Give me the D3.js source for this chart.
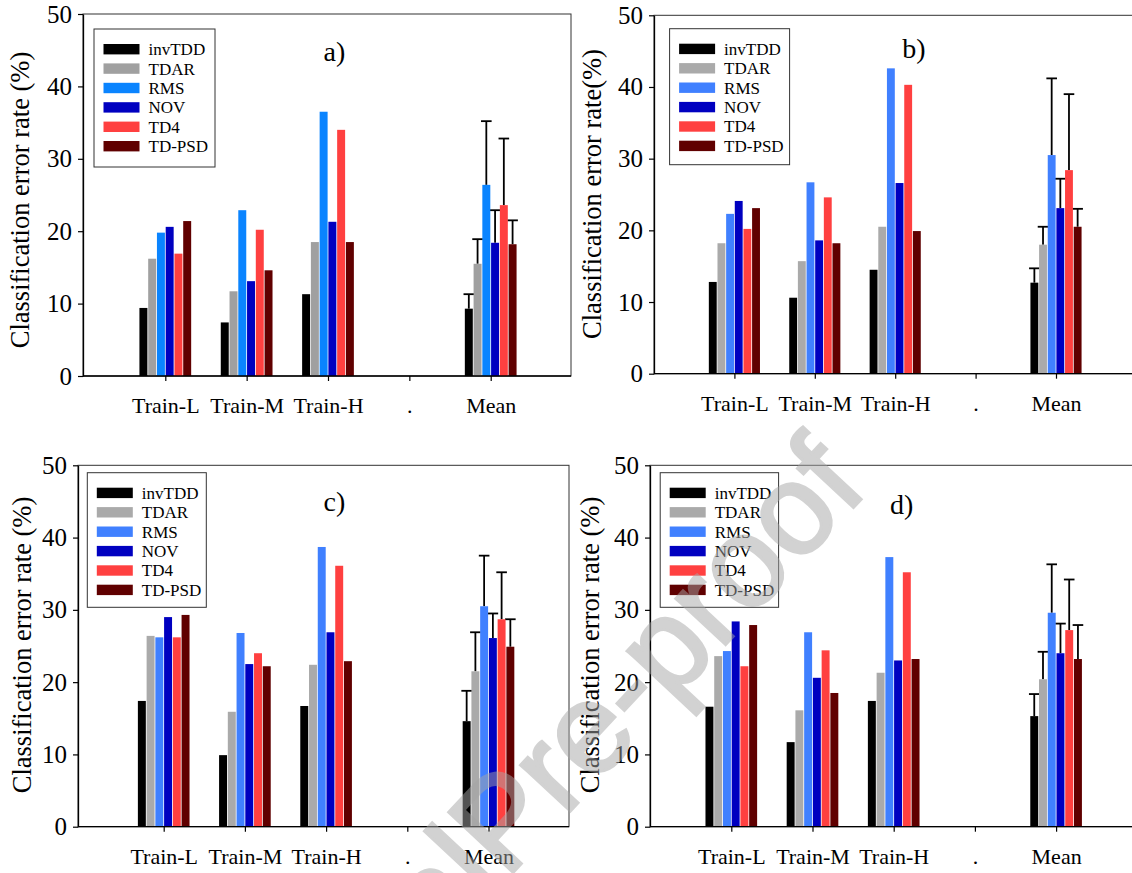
<!DOCTYPE html>
<html>
<head>
<meta charset="utf-8">
<script src="https://cdn.jsdelivr.net/npm/d3@7"></script>
<style>
  body { margin: 0; background: #fff; }
  svg { display: block; }
  svg text { font-family: "Liberation Serif", "Times New Roman", serif; }
</style>
</head>
<body>
<svg width="1132" height="873"></svg>
<script>
// categories on the x axis, "." is an empty spacer slot
var categories = ["Train-L", "Train-M", "Train-H", ".", "Mean"]
var barCategories = ["Train-L", "Train-M", "Train-H", "Mean"]
var methods = ["invTDD", "TDAR", "RMS", "NOV", "TD4", "TD-PSD"]
var yTicks = [0, 10, 20, 30, 40, 50]

// error rates (%), one row per bar category, one column per method
var rateA = [
  [9.4, 16.2, 19.8, 20.6, 16.9, 21.4],
  [7.4, 11.7, 22.9, 13.1, 20.2, 14.6],
  [11.3, 18.5, 36.5, 21.3, 34.0, 18.5],
  [9.3, 15.5, 26.4, 18.4, 23.6, 18.2]
]
var errA = [2.0, 3.4, 8.8, 4.5, 9.2, 3.3]

var rateB = [
  [12.8, 18.2, 22.3, 24.1, 20.2, 23.1],
  [10.6, 15.7, 26.7, 18.6, 24.6, 18.2],
  [14.5, 20.5, 42.6, 26.6, 40.3, 19.9],
  [12.7, 18.0, 30.5, 23.1, 28.4, 20.5]
]
var errB = [2.0, 2.5, 10.7, 4.1, 10.6, 2.5]

var rateC = [
  [17.4, 26.4, 26.2, 29.0, 26.2, 29.3],
  [9.9, 15.9, 26.8, 22.5, 24.0, 22.2],
  [16.7, 22.4, 38.7, 26.9, 36.1, 22.9],
  [14.6, 21.5, 30.5, 26.1, 28.7, 24.9]
]
var errC = [4.2, 5.4, 7.0, 3.4, 6.5, 3.8]

var rateD = [
  [16.6, 23.6, 24.3, 28.4, 22.2, 27.9],
  [11.7, 16.1, 26.9, 20.6, 24.4, 18.5],
  [17.4, 21.3, 37.3, 23.0, 35.2, 23.2],
  [15.3, 20.4, 29.6, 24.0, 27.2, 23.2]
]
var errD = [3.05, 3.8, 6.7, 4.1, 7.0, 4.7]

var colorsA = ["#000000", "#a0a0a0", "#0a84ff", "#0000c0", "#ff4040", "#600000"]
var colorsBCD = ["#000000", "#aaaaaa", "#4080ff", "#0000c0", "#ff4040", "#600000"]

var serif = "'Liberation Serif', 'Times New Roman', serif"

var panels = [
  {label: "a)", rates: rateA, errs: errA, colors: colorsA, title: "Classification error rate (%)",
   left: 83, right: 571, top: 14, bottom: 376, tick1: 165.3, step: 81.35,
   lab: [334.5, 61], ttl: [29, 200], leg: [94, 29, 121, 138]},
  {label: "b)", rates: rateB, errs: errB, colors: colorsBCD, title: "Classification error rate(%)",
   left: 654, right: 1140, top: 15.3, bottom: 373.7, tick1: 734.4, step: 80.4,
   lab: [914, 57.5], ttl: [601, 194], leg: [669.6, 28.7, 120, 136]},
  {label: "c)", rates: rateC, errs: errC, colors: colorsBCD, title: "Classification error rate (%)",
   left: 78, right: 569, top: 465.3, bottom: 826.7, tick1: 163.7, step: 81.2,
   lab: [334.5, 511], ttl: [31, 645], leg: [87.3, 472.7, 119, 134.6]},
  {label: "d)", rates: rateD, errs: errD, colors: colorsBCD, title: "Classification error rate (%)",
   left: 650, right: 1140, top: 465.3, bottom: 826.7, tick1: 731.3, step: 81.2,
   lab: [901.7, 514], ttl: [599, 645], leg: [660.2, 472.7, 118.4, 134.6]}
]

var svg = d3.select("svg")

panels.forEach(function(p){
  var g = svg.append("g")

  var x = d3.scalePoint()
    .domain(categories)
    .range([p.tick1, p.tick1 + 4 * p.step])

  var pitch = p.step * 0.106
  var inner = d3.scaleBand()
    .domain(methods)
    .range([-3 * pitch, 3 * pitch])
    .paddingInner(0.09)

  var y = d3.scaleLinear()
    .domain([0, 50])
    .range([p.bottom, p.top])

  // frame
  g.append("rect")
    .attr("x", p.left).attr("y", p.top)
    .attr("width", p.right - p.left).attr("height", p.bottom - p.top)
    .attr("fill", "none").attr("stroke", "#333").attr("stroke-width", 1)

  // flatten rows into bar records
  var bars = []
  p.rates.forEach(function(row, r){
    row.forEach(function(v, m){
      bars.push({cat: barCategories[r], method: methods[m], value: v, color: p.colors[m],
                 err: barCategories[r] == "Mean" ? p.errs[m] : null})
    })
  })

  function cx(d){ return x(d.cat) + inner(d.method) + inner.bandwidth() / 2 }

  // error bars first, upward only
  var eb = bars.filter(function(d){ return d.err != null })
  g.selectAll(".errLine")
    .data(eb)
    .join("line")
    .attr("x1", cx).attr("x2", cx)
    .attr("y1", function(d){ return y(d.value) })
    .attr("y2", function(d){ return y(d.value + d.err) })
    .attr("stroke", "#000").attr("stroke-width", 1.8)
  g.selectAll(".errCap")
    .data(eb)
    .join("line")
    .attr("x1", function(d){ return cx(d) - 5.3 })
    .attr("x2", function(d){ return cx(d) + 5.3 })
    .attr("y1", function(d){ return y(d.value + d.err) })
    .attr("y2", function(d){ return y(d.value + d.err) })
    .attr("stroke", "#000").attr("stroke-width", 1.8)

  g.selectAll(".bar")
    .data(bars)
    .join("rect")
    .attr("x", function(d){ return x(d.cat) + inner(d.method) })
    .attr("width", inner.bandwidth())
    .attr("y", function(d){ return y(d.value) })
    .attr("height", function(d){ return y(0) - y(d.value) })
    .attr("fill", function(d){ return d.color })

  // x axis
  var xa = g.append("g")
    .attr("transform", "translate(0," + p.bottom + ")")
    .call(d3.axisBottom(x).tickSize(5).tickSizeOuter(0))
  xa.attr("font-family", null)
  xa.select(".domain").remove()
  xa.append("line")
    .attr("x1", p.left).attr("x2", p.right)
    .attr("stroke", "#000").attr("stroke-width", 1.3)
  xa.selectAll(".tick line").attr("stroke", "#000").attr("stroke-width", 1.2)
  xa.selectAll(".tick text")
    .attr("y", 37).attr("dy", null)
    .attr("fill", "#000")
    .style("font-family", serif)
    .style("font-size", "22px")

  // y axis
  var ya = g.append("g")
    .attr("transform", "translate(" + p.left + ",0)")
    .call(d3.axisLeft(y).tickValues(yTicks).tickSize(5).tickSizeOuter(0).tickPadding(6))
  ya.attr("font-family", null)
  ya.select(".domain").attr("stroke", "#000").attr("stroke-width", 1.3)
  ya.selectAll(".tick line").attr("stroke", "#000").attr("stroke-width", 1.2)
  ya.selectAll(".tick text")
    .attr("fill", "#000")
    .style("font-family", serif)
    .style("font-size", "25px")

  // axis title
  g.append("text")
    .attr("transform", "translate(" + p.ttl[0] + "," + p.ttl[1] + ") rotate(-90)")
    .attr("text-anchor", "middle")
    .style("font-family", serif)
    .style("font-size", "26.5px")
    .text(p.title)

  // panel label
  g.append("text")
    .attr("x", p.lab[0]).attr("y", p.lab[1])
    .attr("text-anchor", "middle")
    .style("font-family", serif)
    .style("font-size", "28px")
    .text(p.label)

  // legend
  var lg = g.append("g").attr("transform", "translate(" + p.leg[0] + "," + p.leg[1] + ")")
  lg.append("rect")
    .attr("width", p.leg[2]).attr("height", p.leg[3])
    .attr("fill", "#fff").attr("stroke", "#333").attr("stroke-width", 1)
  var items = lg.selectAll(".item")
    .data(methods)
    .join("g")
    .attr("transform", function(d, i){ return "translate(0," + (20.2 + i * 19.4) + ")" })
  items.append("rect")
    .attr("x", 9.5).attr("y", -5.2)
    .attr("width", 36).attr("height", 10.4)
    .attr("fill", function(d, i){ return p.colors[i] })
  items.append("text")
    .attr("x", 54.5).attr("dy", "0.35em")
    .style("font-family", serif)
    .style("font-size", "17px")
    .text(function(d){ return d })
})

// faint watermark laid over everything
var wm = svg.append("g")
  .attr("transform", "translate(506,880) rotate(-47)")
  .attr("opacity", 0.5)
  .attr("fill", "#a6a6a6").attr("stroke", "#a6a6a6").attr("stroke-width", 3)
wm.append("text").attr("text-anchor", "end")
  .style("font-family", "'Liberation Sans', Arial, sans-serif").style("font-size", "128px")
  .text("Journal ")
wm.append("text").attr("text-anchor", "start")
  .style("font-family", "'Liberation Sans', Arial, sans-serif").style("font-size", "128px")
  .text("Pre-proof")
</script>
</body>
</html>
